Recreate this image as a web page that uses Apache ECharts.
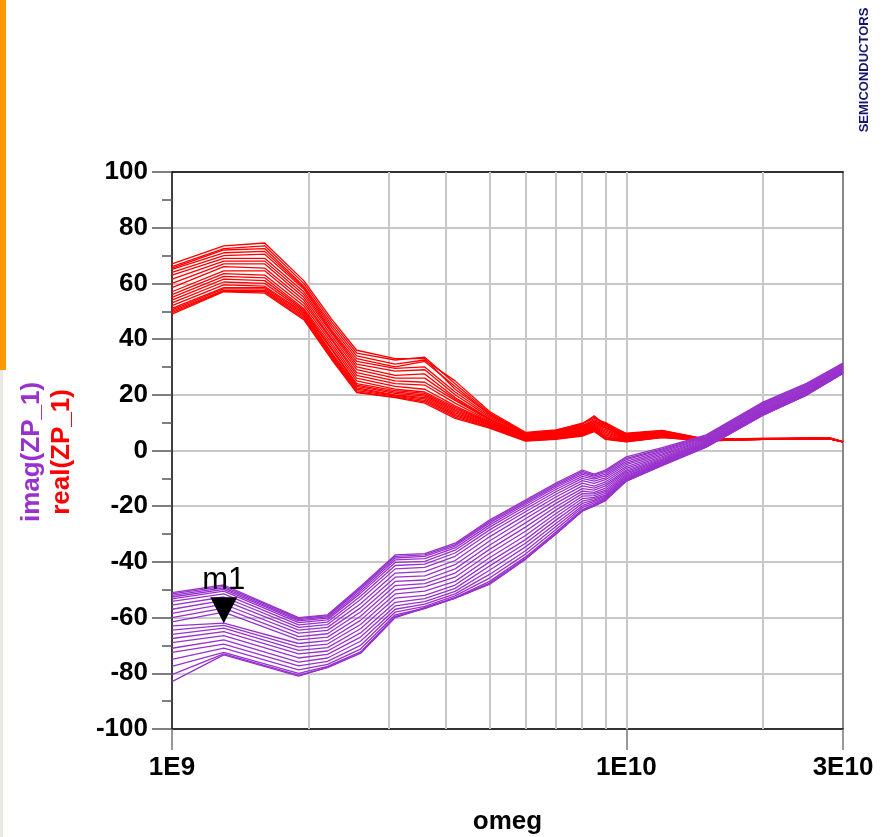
<!DOCTYPE html>
<html>
<head>
<meta charset="utf-8">
<script src="https://cdn.jsdelivr.net/npm/echarts@6/dist/echarts.min.js"></script>
<style>
  html, body { margin: 0; padding: 0; background: #fff; }
  #chart { width: 890px; height: 837px; }
</style>
</head>
<body>
<div id="chart"></div>
<script>
// Sweep frequencies (omeg) for each family of traces
const realFreq = [1e9, 1.3e9, 1.6e9, 1.95e9, 2.25e9, 2.55e9, 3.1e9, 3.6e9, 4.2e9, 5e9, 6e9, 7e9, 8e9, 8.5e9, 9e9, 1e10, 1.2e10, 1.5e10, 2e10, 2.8e10, 3e10];
const imagFreq = [1e9, 1.3e9, 1.9e9, 2.2e9, 2.6e9, 3.1e9, 3.6e9, 4.2e9, 5e9, 6e9, 7e9, 8e9, 8.5e9, 9e9, 1e10, 1.2e10, 1.5e10, 2e10, 2.5e10, 3e10];

// real(ZP_1), one row per swept trace
const realZP = [
  [67, 73.5, 74.5, 61, 47, 36, 33, 33, 22, 13, 6, 7, 9.5, 12.5, 9, 6, 7, 4, 4.3, 4.5, 3.2],
  [66, 72.5, 73.5, 60, 46, 35, 32.5, 33.5, 24, 13.5, 6.2, 7.2, 9.8, 12, 9.5, 6.2, 7.2, 4.1, 4.3, 4.6, 3.2],
  [65.5, 72, 72.5, 59, 45, 34, 31, 32.5, 25, 14, 6.5, 7.4, 9.6, 11.5, 10, 6, 7, 4, 4.2, 4.4, 3.1],
  [65, 71, 71.5, 58.5, 44, 33, 30, 32, 23, 13, 6, 7, 9, 11, 9.8, 5.8, 6.9, 3.9, 4.2, 4.4, 3.1],
  [64, 70, 70.5, 58, 43, 32, 29.5, 30, 21, 12.5, 5.8, 6.8, 8.8, 10.5, 9.5, 5.5, 6.8, 3.9, 4.2, 4.4, 3.1],
  [63, 69, 69, 57, 42.5, 31, 28.5, 29, 20, 12, 5.5, 6.6, 8.5, 10.5, 9.2, 5.2, 6.7, 3.8, 4.2, 4.4, 3.1],
  [61.5, 68, 68, 56, 42, 30, 27, 27.5, 19, 11.5, 5.3, 6.4, 8.3, 10, 9, 5, 6.6, 3.8, 4.2, 4.4, 3.1],
  [60, 67, 67, 55, 41, 29, 26, 26, 18.5, 11.2, 5.2, 6.2, 8, 10, 8.5, 4.8, 6.5, 3.8, 4.1, 4.3, 3.1],
  [58.5, 66, 65.5, 54, 40, 28, 25, 24.5, 18, 11, 5, 6, 7.8, 9.5, 8.2, 4.6, 6.3, 3.8, 4.1, 4.3, 3.1],
  [57, 64.5, 64.5, 53, 39.5, 27, 24, 23.5, 17, 10.6, 4.8, 5.8, 7.5, 9.5, 8, 4.5, 6.2, 3.8, 4.1, 4.3, 3.1],
  [56, 63.5, 63, 52, 38.5, 26, 23, 22, 16, 10.3, 4.6, 5.6, 7.2, 9, 7.5, 4.3, 6, 3.7, 4.1, 4.3, 3.1],
  [55, 62.5, 62, 51, 37.5, 25, 22, 21, 15.5, 10, 4.4, 5.4, 7, 8.8, 7, 4.2, 5.8, 3.7, 4.1, 4.3, 3.1],
  [54, 61.5, 61, 50.5, 36.5, 24, 21.5, 20.5, 15, 9.8, 4.2, 5.2, 6.8, 8.5, 6.5, 4, 5.6, 3.7, 4.1, 4.3, 3.1],
  [53, 60.5, 60, 50, 36, 23.5, 21, 20, 14.5, 9.5, 4, 5, 6.5, 8.2, 6, 3.8, 5.4, 3.6, 4.1, 4.3, 3.1],
  [52, 59.5, 59, 49.5, 35, 23, 20.5, 19.5, 14, 9.2, 3.9, 4.8, 6.2, 8, 5.5, 3.6, 5.2, 3.6, 4, 4.2, 3.1],
  [51, 58.5, 58.5, 49, 34.5, 22.5, 20, 19, 13.5, 9, 3.8, 4.6, 6, 7.8, 5, 3.5, 5, 3.6, 4, 4.2, 3.1],
  [50.5, 58, 58, 48.5, 34, 22, 19.8, 18.5, 13, 8.8, 3.7, 4.5, 5.8, 7.5, 4.8, 3.4, 4.9, 3.6, 4, 4.2, 3.1],
  [50, 57.5, 57.5, 48, 33.5, 21.5, 19.5, 18, 12.5, 8.5, 3.6, 4.4, 5.6, 7.2, 4.5, 3.3, 4.8, 3.5, 4, 4.2, 3.1],
  [49.5, 57.2, 57, 47.5, 33, 21, 19.2, 17.5, 12, 8.3, 3.5, 4.2, 5.4, 7, 4.2, 3.2, 4.7, 3.5, 4, 4.2, 3.1],
  [49, 57, 56.5, 47, 32.5, 20.8, 19, 17, 11.5, 8, 3.4, 4, 5.2, 6.8, 4, 3.1, 4.6, 3.5, 4, 4.2, 3]
];

// imag(ZP_1), one row per swept trace
const imagZP = [
  [-51, -48.3, -60, -59, -48.8, -37.5, -37, -33.3, -25, -17.8, -11.7, -7, -8.5, -7, -2.3, 1, 5.6, 17.4, 24.2, 31.4],
  [-51.5, -48.8, -60.3, -59.3, -49.3, -38, -37.5, -33.8, -25.5, -18.3, -12.2, -7.5, -8.8, -7.4, -2.8, 0.6, 5.3, 17.1, 23.9, 31.1],
  [-52, -49.3, -60.7, -59.7, -49.8, -38.6, -38, -34.3, -26, -18.8, -12.7, -8, -9.2, -7.9, -3.3, 0.2, 5, 16.8, 23.6, 30.8],
  [-52.6, -49.9, -61.2, -60.2, -50.5, -39.3, -38.8, -35, -26.7, -19.4, -13.3, -8.6, -9.7, -8.5, -3.9, -0.2, 4.7, 16.5, 23.3, 30.5],
  [-53.3, -50.5, -61.8, -60.8, -51.3, -40.2, -39.8, -35.8, -27.5, -20.1, -14, -9.3, -10.3, -9.1, -4.5, -0.7, 4.4, 16.2, 23, 30.2],
  [-54.2, -51.5, -62.6, -61.6, -52.3, -41.3, -40.8, -36.8, -28.5, -21, -14.8, -10, -11, -9.8, -5.1, -1.2, 4.1, 15.9, 22.7, 29.9],
  [-55.5, -52.6, -63.5, -62.5, -53.5, -42.5, -42, -38, -29.6, -22, -15.7, -10.8, -11.8, -10.5, -5.8, -1.7, 3.8, 15.6, 22.4, 29.6],
  [-57, -53.8, -64.5, -63.5, -55, -44, -43.5, -39.5, -31, -23.2, -16.7, -11.7, -12.8, -11.3, -6.4, -2.2, 3.5, 15.3, 22.1, 29.4],
  [-58.5, -55.2, -65.6, -64.6, -56.5, -45.5, -45, -41, -32.5, -24.5, -17.8, -12.7, -13.5, -12, -7, -2.6, 3.2, 15, 21.8, 29.2],
  [-60, -56.6, -66.8, -65.8, -58, -47, -46.5, -42.5, -34, -26, -19, -13.7, -14.2, -12.7, -7.5, -3, 3, 14.7, 21.6, 29],
  [-61.5, -58, -68, -67, -59.5, -48.5, -47.8, -44, -35.5, -27.5, -20.2, -14.6, -15, -13.5, -8, -3.4, 2.7, 14.4, 21.4, 28.8],
  [-63, -62, -69.3, -68.3, -61, -50, -49, -45.5, -37, -29, -21.4, -15.5, -15.6, -14.2, -8.5, -3.7, 2.5, 14.2, 21.2, 28.6],
  [-64.5, -62.8, -70.5, -69.5, -62.5, -51.5, -50.5, -47, -38.5, -30.5, -22.6, -16.4, -16.2, -14.8, -9, -4, 2.3, 14, 21, 28.4],
  [-66, -63.8, -71.8, -70.8, -64, -53, -52, -48.3, -40, -32, -23.8, -17.3, -16.8, -15.4, -9.4, -4.2, 2.1, 13.8, 20.8, 28.2],
  [-67.5, -65, -73, -72, -65.5, -54.5, -53.2, -49.5, -41.5, -33.3, -25, -18.2, -17.3, -16, -9.8, -4.4, 1.9, 13.6, 20.6, 28.1],
  [-69, -66.5, -74.5, -73.2, -67, -55.8, -54.3, -50.6, -43, -34.6, -26.2, -19, -17.8, -16.4, -10.1, -4.6, 1.7, 13.4, 20.4, 28],
  [-71, -68, -76, -74.5, -68.5, -57, -55.2, -51.5, -44.5, -36, -27.3, -19.8, -18.3, -16.8, -10.4, -4.8, 1.6, 13.2, 20.3, 27.9],
  [-72.5, -69.5, -77.3, -75.7, -70, -58, -56, -52.2, -45.8, -37.2, -28.4, -20.5, -18.8, -17.2, -10.6, -5, 1.5, 13, 20.2, 27.9],
  [-75, -71, -78.8, -76.8, -71.3, -59, -56.6, -52.8, -47, -38.2, -29.3, -21.2, -19.3, -17.5, -10.8, -5.1, 1.4, 12.9, 20.1, 27.8],
  [-77.5, -72.5, -80, -77.5, -72.3, -59.6, -56.8, -53, -47.6, -38.8, -29.8, -21.5, -19.6, -17.7, -10.9, -5.2, 1.3, 12.8, 20, 27.8],
  [-80.5, -73, -80.7, -78, -72.8, -60, -56.6, -53, -48, -39, -30, -21.7, -19.8, -17.9, -11, -5.3, 1.3, 12.7, 20, 27.8],
  [-83, -73.4, -81, -77.8, -72.8, -59.8, -56.4, -53, -48, -39, -30, -21.8, -20, -18, -11, -5.4, 1.2, 12.7, 20, 27.8]
];

// Marker m1 sits on this trace at this frequency
const markerName = 'm1';
const markerTrace = 11;
const markerFreq = 1.3e9;

// Decade sub-divisions drawn as vertical grid lines
const gridFreqs = [2e9, 3e9, 4e9, 5e9, 6e9, 7e9, 8e9, 9e9, 1e10, 2e10];
const xTickValues = [1e9, 1e10, 3e10];

const RED = '#ff0000';
const PURPLE = '#9932cc';
const FONT = 'Liberation Sans, Arial, sans-serif';

function sciLabel(v) {
  const e = Math.floor(Math.log10(v) + 1e-6);
  const m = Math.round(v / Math.pow(10, e));
  return m + 'E' + e;
}

const series = [];
realZP.forEach((row, k) => {
  const s = {
    type: 'line',
    xAxisIndex: 0, yAxisIndex: 0,
    data: realFreq.map((f, i) => [f, row[i]]),
    showSymbol: false,
    lineStyle: { color: RED, width: 1.3 },
    silent: true,
    z: 3
  };
  if (k === 0) {
    s.markLine = {
      silent: true,
      symbol: 'none',
      z: 1,
      label: { show: false },
      lineStyle: { color: '#c8c8c8', width: 2, type: 'solid' },
      data: gridFreqs.map(f => ({ xAxis: f }))
    };
  }
  series.push(s);
});
imagZP.forEach((row, k) => {
  const s = {
    type: 'line',
    xAxisIndex: 0, yAxisIndex: 0,
    data: imagFreq.map((f, i) => [f, row[i]]),
    showSymbol: false,
    lineStyle: { color: PURPLE, width: 1.3 },
    silent: true,
    z: 4
  };
  if (k === markerTrace) {
    s.markPoint = {
      silent: true,
      z: 10,
      symbol: 'path://M0,0L2,0L1,2Z',
      symbolSize: [27, 26],
      symbolOffset: [0, '-50%'],
      itemStyle: { color: '#000' },
      label: {
        show: true, position: 'top', distance: 1,
        formatter: markerName,
        color: '#000', fontSize: 31, fontFamily: FONT
      },
      data: [{ coord: [markerFreq, row[imagFreq.indexOf(markerFreq)]] }]
    };
  }
  series.push(s);
});

const chart = echarts.init(document.getElementById('chart'), null, { renderer: 'canvas' });
chart.setOption({
  animation: false,
  backgroundColor: '#ffffff',
  grid: { left: 172, right: 47, top: 172, bottom: 108, containLabel: false, outerBoundsMode: 'none' },
  xAxis: [{
    type: 'log', logBase: 10, min: 1e9, max: 3e10,
    name: 'omeg', nameLocation: 'middle', nameGap: 80,
    nameTextStyle: { color: '#000', fontSize: 26, fontWeight: 'bold', fontFamily: FONT },
    axisLine: { show: true, onZero: false, lineStyle: { color: '#000', width: 1.5 } },
    axisTick: { show: true, customValues: xTickValues, length: 21, lineStyle: { color: '#777', width: 1.5 } },
    axisLabel: {
      customValues: xTickValues, margin: 26,
      formatter: sciLabel,
      color: '#000', fontSize: 26, fontWeight: 'bold', fontFamily: FONT
    },
    splitLine: { show: false },
    minorTick: { show: false }
  }, {
    type: 'log', logBase: 10, min: 1e9, max: 3e10, position: 'top',
    axisLine: { show: true, onZero: false, lineStyle: { color: '#000', width: 1.5 } },
    axisTick: { show: false }, axisLabel: { show: false }, splitLine: { show: false }
  }],
  yAxis: [{
    type: 'value', min: -100, max: 100, interval: 20,
    axisLine: { show: true, onZero: false, lineStyle: { color: '#000', width: 1.5 } },
    axisTick: { show: true, length: 20, lineStyle: { color: '#555', width: 1.5 } },
    minorTick: { show: true, splitNumber: 2, length: 10, lineStyle: { color: '#555', width: 1.5 } },
    axisLabel: { margin: 24, color: '#000', fontSize: 26, fontWeight: 'bold', fontFamily: FONT },
    splitLine: { show: true, lineStyle: { color: '#c8c8c8', width: 2 } }
  }, {
    type: 'value', min: -100, max: 100, interval: 20, position: 'right',
    axisLine: { show: true, onZero: false, lineStyle: { color: '#888', width: 2 } },
    axisTick: { show: false }, axisLabel: { show: false }, splitLine: { show: false }
  }],
  graphic: [
    { type: 'rect', left: 0, top: 0, shape: { width: 6, height: 370 }, style: { fill: '#ff9900' }, silent: true },
    { type: 'rect', left: 0, top: 370, shape: { width: 3, height: 467 }, style: { fill: '#ebe7e4' }, silent: true },
    {
      type: 'text', x: 32, y: 452, rotation: Math.PI / 2, silent: true,
      style: { text: 'imag(ZP_1)', fill: PURPLE, font: 'bold 26px ' + FONT, align: 'center', verticalAlign: 'middle' }
    },
    {
      type: 'text', x: 62, y: 452, rotation: Math.PI / 2, silent: true,
      style: { text: 'real(ZP_1)', fill: RED, font: 'bold 26px ' + FONT, align: 'center', verticalAlign: 'middle' }
    },
    {
      type: 'text', x: 864, y: 70, rotation: Math.PI / 2, silent: true,
      style: { text: 'SEMICONDUCTORS', fill: '#16166e', font: 'bold 13px ' + FONT, align: 'center', verticalAlign: 'middle' }
    }
  ],
  series: series
});
</script>
</body>
</html>
